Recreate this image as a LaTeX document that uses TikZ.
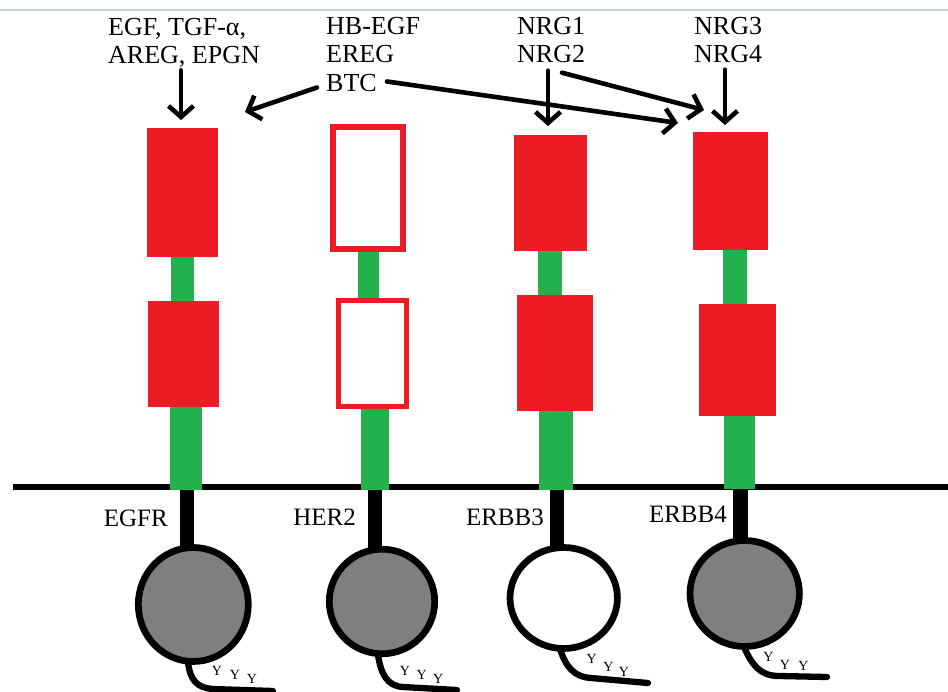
\documentclass[tikz,border=0pt]{standalone}
\usepackage{fontspec}
\setmainfont{Liberation Serif}
\usetikzlibrary{arrows.meta,calc}
\definecolor{rred}{HTML}{ED1C24}
\definecolor{rgreen}{HTML}{22B14C}
\definecolor{rgray}{HTML}{7F7F7F}
\definecolor{topline}{RGB}{200,212,224}
\tikzset{
  lbl/.style={inner sep=0pt, anchor=base west, font=\fontsize{26}{27}\selectfont},
  rlbl/.style={inner sep=0pt, anchor=base east, font=\fontsize{25}{27}\selectfont},
  ylbl/.style={inner sep=0pt, font=\fontsize{14}{14}\selectfont},
  arr/.style={line width=4.6pt, line cap=round, line join=round, -{Straight Barb[length=11pt,width=25pt]}},
  redfill/.style={fill=rred},
  greenfill/.style={fill=rgreen},
  redout/.style={draw=rred, fill=white},
  stemfill/.style={fill=black},
  kinase/.style={draw=black, line width=6.7pt},
  tail/.style={draw=black, line width=6.3pt, line cap=round},
}
\begin{document}
\begin{tikzpicture}[x=1pt,y=-1pt]
\useasboundingbox (0,0) rectangle (948,692);
\fill[white] (0,0) rectangle (948,692);
\draw[topline, line width=1.3pt] (0,10) -- (948,10);

% membrane
\draw[line width=6.5pt] (13,487) -- (948,487);

% ---- EGFR ----
\fill[stemfill] (180,487) rectangle (194,549);
\fill[greenfill] (171,256) rectangle (194,302);
\fill[greenfill] (170,406) rectangle (202,489.5);
\fill[redfill] (147,128) rectangle (218,257);
\fill[redfill] (148,301) rectangle (219,407);
\filldraw[kinase, fill=rgray] (193.3,604.5) ellipse [x radius=55pt, y radius=57pt];
\draw[tail] (188,662) .. controls (190,680) and (197,688) .. (213,689) -- (273,691);
\node[ylbl] (y1a) at (217,671) {Y};
\node[ylbl] (y1b) at (235,675) {Y};
\node[ylbl] (y1c) at (252,678.5) {Y};
\node[rlbl] (egfr) at (168,526) {EGFR};

% ---- HER2 ----
\fill[stemfill] (368,487) rectangle (382,550);
\fill[greenfill] (358,248) rectangle (379,301);
\fill[greenfill] (361,406) rectangle (389,489.5);
\draw[redout, line width=5.7pt] (332.85,126.85) rectangle (403.15,249.15);
\draw[redout, line width=4.6pt] (338.3,300.3) rectangle (406.7,406.7);
\filldraw[kinase, fill=rgray] (382,601.5) ellipse [x radius=52.7pt, y radius=52.3pt];
\draw[tail] (378,655) .. controls (381,674) and (387,686) .. (403,687) -- (457,690);
\node[ylbl] (y2a) at (405,670.5) {Y};
\node[ylbl] (y2b) at (421.7,675) {Y};
\node[ylbl] (y2c) at (438.3,679) {Y};
\node[rlbl] (her2) at (356,525) {HER2};

% ---- ERBB3 ----
\fill[stemfill] (550,487) rectangle (564,549);
\fill[greenfill] (538,250) rectangle (562,296);
\fill[greenfill] (539,410) rectangle (573,489.5);
\fill[redfill] (514,135) rectangle (587,251);
\fill[redfill] (517,295) rectangle (593,411);
\filldraw[kinase, fill=white] (563.7,598) ellipse [x radius=53.7pt, y radius=50.5pt];
\draw[tail] (560,649) .. controls (566,667) and (574,677) .. (591,678) -- (648,683);
\node[ylbl] (y3a) at (591.7,659.3) {Y};
\node[ylbl] (y3b) at (608.3,666.7) {Y};
\node[ylbl] (y3c) at (624,671.7) {Y};
\node[rlbl] (erbb3) at (544,525) {ERBB3};

% ---- ERBB4 ----
\fill[stemfill] (733,487) rectangle (748,542);
\fill[greenfill] (723,249) rectangle (747,305);
\fill[greenfill] (724,415) rectangle (755,489);
\fill[redfill] (693,132) rectangle (768,250);
\fill[redfill] (699,304) rectangle (776,416);
\filldraw[kinase, fill=rgray] (744.7,593.5) ellipse [x radius=54.7pt, y radius=53pt];
\draw[tail] (744,647) .. controls (752,665) and (760,676) .. (779,676) -- (827,677);
\node[ylbl] (y4a) at (768.3,657.3) {Y};
\node[ylbl] (y4b) at (785,665) {Y};
\node[ylbl] (y4c) at (803.3,666) {Y};
\node[rlbl] (erbb4) at (727,522) {ERBB4};

% ---- ligand labels ----
\node[lbl] (t1a) at (108,36) {EGF, TGF-α,};
\node[lbl] (t1b) at (108,63.3) {AREG, EPGN};
\node[lbl] (t2a) at (326,35) {HB-EGF};
\node[lbl] (t2b) at (326,63) {EREG};
\node[lbl] (btc) at (326,91.5) {BTC};
\node[lbl] (t3a) at (517,34.5) {NRG1};
\node[lbl] (t3b) at (517,62.7) {NRG2};
\node[lbl] (t4a) at (694,34.5) {NRG3};
\node[lbl] (t4b) at (694,62.7) {NRG4};

% arrow targets
\coordinate (egfrin) at (181,120);
\coordinate (btcl) at (245,112);
\coordinate (btcr) at (678,123);
\coordinate (erbb3in) at (548,126);
\coordinate (nrg2r) at (704,110);
\coordinate (erbb4in) at (725,125);

\draw[arr] ($(t1b.base west)+(73,7)$) -- (egfrin);
\draw[arr] ($(btc.base west)+(-9,-4)$) -- (btcl);
\draw[arr] ($(btc.base east)+(10,-10)$) -- (btcr);
\draw[arr] ($(t3b.base west)+(31,8)$) -- (erbb3in);
\draw[arr] ($(t3b.base west)+(45,10)$) -- (nrg2r);
\draw[arr] ($(t4b.base west)+(31,7)$) -- (erbb4in);
\end{tikzpicture}
\end{document}
